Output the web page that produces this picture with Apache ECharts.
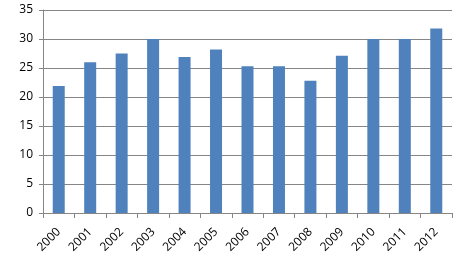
<!DOCTYPE html>
<html>
<head>
<meta charset="utf-8">
<script src="https://cdn.jsdelivr.net/npm/echarts@6/dist/echarts.min.js"></script>
<style>html,body{margin:0;padding:0;background:#fff;}#c{width:461px;height:276px;}</style>
</head>
<body>
<div id="c"></div>
<script>
var categories = ['2000','2001','2002','2003','2004','2005','2006','2007','2008','2009','2010','2011','2012'];
var values = [21.9, 26.0, 27.5, 30.0, 26.9, 28.2, 25.3, 25.3, 22.8, 27.1, 30.0, 30.0, 31.8];
var yTicks = [0, 5, 10, 15, 20, 25, 30, 35];

var chart = echarts.init(document.getElementById('c'));
chart.setOption({
  animation: false,
  grid: { left: 43, right: 9, top: 10, bottom: 63, containLabel: false },
  xAxis: {
    type: 'category',
    data: categories,
    axisLine: { show: true, lineStyle: { color: '#868686', width: 1 } },
    axisTick: { show: true, length: 5, alignWithLabel: false, lineStyle: { color: '#868686' } },
    axisLabel: { rotate: 45, color: '#000', fontFamily: 'Open Sans', fontSize: 12, margin: 17, interval: 0 }
  },
  yAxis: {
    type: 'value',
    min: yTicks[0],
    max: yTicks[yTicks.length - 1],
    interval: 5,
    axisLine: { show: true, lineStyle: { color: '#868686', width: 1 } },
    axisTick: { show: true, length: 4, lineStyle: { color: '#868686' } },
    splitLine: { show: true, lineStyle: { color: '#868686', width: 1 } },
    axisLabel: { color: '#000', fontFamily: 'Open Sans', fontSize: 12, margin: 10 }
  },
  series: [{
    type: 'bar',
    data: values,
    barWidth: 12,
    itemStyle: { color: '#4F81BD' }
  }]
});
</script>
</body>
</html>
